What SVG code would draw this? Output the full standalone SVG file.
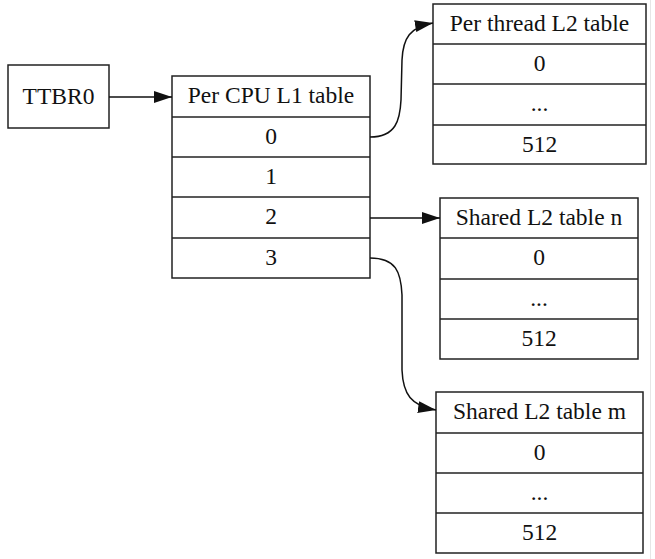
<svg xmlns="http://www.w3.org/2000/svg" width="655" height="559" viewBox="0 0 655 559">
<defs>
<style>
.box{fill:#fff;stroke:#222;stroke-width:1.5}
.sep{stroke:#222;stroke-width:1.5}
text{font-family:"Liberation Serif","Times New Roman",serif;font-size:23.5px;fill:#111;text-anchor:middle}
.edge{fill:none;stroke:#111;stroke-width:1.5}
</style>
<marker id="arr" viewBox="0 0 18 12" refX="18" refY="6" markerWidth="18" markerHeight="12" markerUnits="userSpaceOnUse" orient="auto">
<path d="M0,0 L18,6 L0,12 z" fill="#111"/>
</marker>
</defs>
<rect width="655" height="559" fill="#fff"/>
<line x1="650.5" y1="0" x2="650.5" y2="559" stroke="#e6e6e6" stroke-width="1"/>
<g id="ttbr0">
<rect class="box" x="8" y="65" width="101" height="63"/>
<text x="58.5" y="104">TTBR0</text>
</g>
<g id="l1">
<rect class="box" x="172" y="76" width="198" height="202"/>
<line class="sep" x1="172" y1="117" x2="370" y2="117"/>
<line class="sep" x1="172" y1="157" x2="370" y2="157"/>
<line class="sep" x1="172" y1="197" x2="370" y2="197"/>
<line class="sep" x1="172" y1="238" x2="370" y2="238"/>
<text x="271" y="103">Per CPU L1 table</text>
<text x="271" y="144">0</text>
<text x="271" y="184">1</text>
<text x="271" y="224">2</text>
<text x="271" y="265">3</text>
</g>
<g id="thread_l2">
<rect class="box" x="433" y="4" width="213" height="160"/>
<line class="sep" x1="433" y1="44" x2="646" y2="44"/>
<line class="sep" x1="433" y1="84" x2="646" y2="84"/>
<line class="sep" x1="433" y1="125" x2="646" y2="125"/>
<text x="539.5" y="31">Per thread L2 table</text>
<text x="539.5" y="71">0</text>
<text x="539.5" y="111">...</text>
<text x="539.5" y="152">512</text>
</g>
<g id="shared_n">
<rect class="box" x="440" y="198" width="198" height="161"/>
<line class="sep" x1="440" y1="238" x2="638" y2="238"/>
<line class="sep" x1="440" y1="279" x2="638" y2="279"/>
<line class="sep" x1="440" y1="319" x2="638" y2="319"/>
<text x="539" y="225">Shared L2 table n</text>
<text x="539" y="265">0</text>
<text x="539" y="306">...</text>
<text x="539" y="346">512</text>
</g>
<g id="shared_m">
<rect class="box" x="436" y="392" width="207" height="161"/>
<line class="sep" x1="436" y1="433" x2="643" y2="433"/>
<line class="sep" x1="436" y1="473" x2="643" y2="473"/>
<line class="sep" x1="436" y1="513" x2="643" y2="513"/>
<text x="539.5" y="419">Shared L2 table m</text>
<text x="539.5" y="460">0</text>
<text x="539.5" y="500">...</text>
<text x="539.5" y="540">512</text>
</g>
<g id="edges">
<path class="edge" d="M109,97 L172,97" marker-end="url(#arr)"/>
<path class="edge" d="M370,137 C396,137 400,120 401,100 L402,60 C403,38 410,27 433,23" marker-end="url(#arr)"/>
<path class="edge" d="M370,218 L440,218" marker-end="url(#arr)"/>
<path class="edge" d="M370,258 C396,258 401,272 402,295 L402,370 C403,394 411,406 436,410" marker-end="url(#arr)"/>
</g>
</svg>
